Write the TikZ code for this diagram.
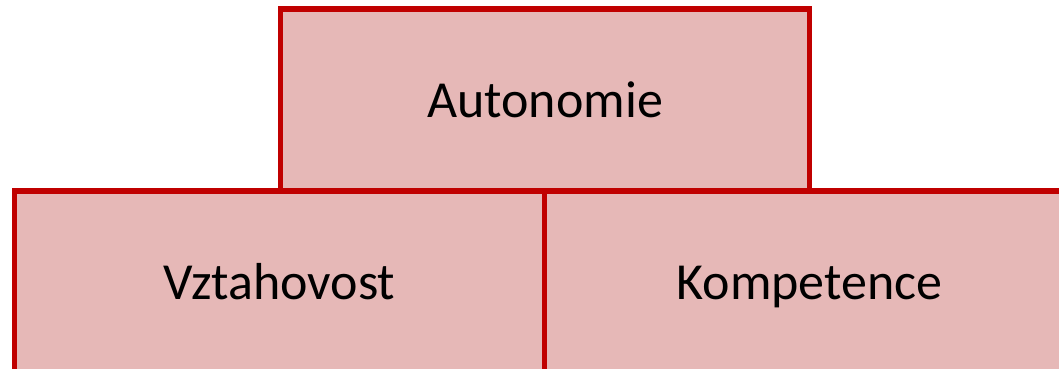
\documentclass[tikz,border=0pt]{standalone}
\usepackage{fontspec}
\setmainfont{Carlito}
\usepackage{tikz}
\usetikzlibrary{positioning}

\definecolor{boxfill}{HTML}{E6B8B7}
\definecolor{boxline}{HTML}{C00000}

\begin{document}
\begin{tikzpicture}[x=1pt, y=-1pt,
    needbox/.style={draw=boxline, fill=boxfill, line width=5.5pt, outer sep=0pt, inner sep=0pt,
        minimum width=530pt, minimum height=181.5pt, text height=35pt, text depth=0pt,
        font=\fontsize{52}{62}\selectfont}
]
\useasboundingbox (0,0) rectangle (1059,368);
\clip (0,0) rectangle (1059,368);

% top of the pyramid
\node[needbox, minimum width=529pt] (auto) at (545,99.5) {Autonomie};

% bottom row, placed under the top box
\node[needbox] (vzt) at (279.5,281.75) {Vztahovost};
\node[needbox, right=0pt of vzt] (komp) {Kompetence};
\end{tikzpicture}
\end{document}
